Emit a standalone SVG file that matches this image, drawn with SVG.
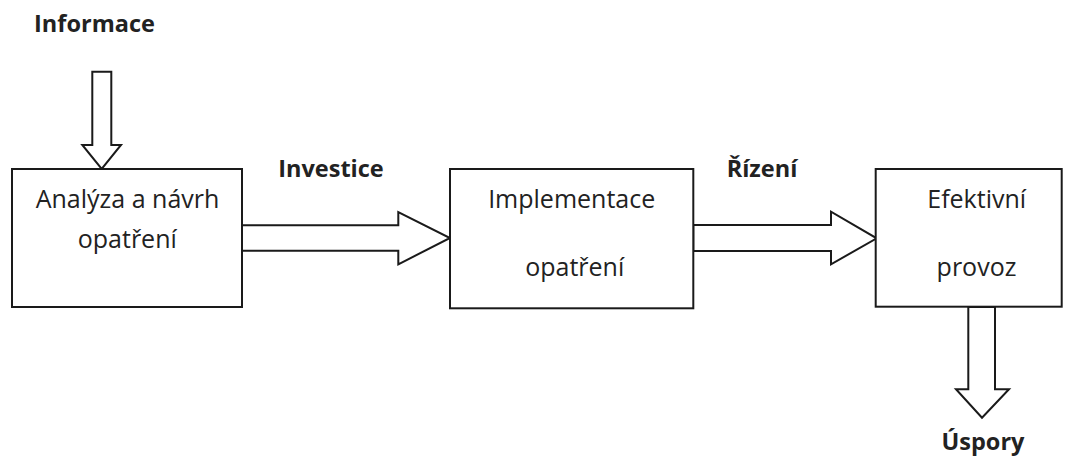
<svg xmlns="http://www.w3.org/2000/svg" width="1065" height="462" viewBox="0 0 1065 462">
<style>
.box{fill:#fff;stroke:#1a1a1a;stroke-width:2}
.arr{fill:#fff;stroke:#1a1a1a;stroke-width:2;stroke-linejoin:miter}
.t{font-family:"Open Sans","Noto Sans",sans-serif;font-size:25px;fill:#222;text-anchor:middle}
.b{font-family:"Open Sans","Noto Sans",sans-serif;font-size:23.5px;font-weight:bold;fill:#222;text-anchor:middle}
</style>
<rect width="1065" height="462" fill="#fff"/>
<g id="connectors">
<polygon class="arr" points="92.3,71.7 111.3,71.7 111.3,145 121,145 101.7,169 82.3,145 92.3,145"/>
<polygon class="arr" points="242,225.3 398.3,225.3 398.3,212 450,238 398.3,264.3 398.3,250.7 242,250.7"/>
<polygon class="arr" points="693.3,225 831,225 831,211.7 876.7,238.3 831,264.3 831,251 693.3,251"/>
<polygon class="arr" points="968.3,307 995,307 995,389.3 1009,389.3 982,417.7 956,389.3 968.3,389.3"/>
</g>
<g id="node-analyza">
<rect class="box" x="12" y="169" width="230" height="138"/>
<text class="t" x="127.5" y="208.3">Analýza a návrh</text>
<text class="t" x="127.3" y="248.3">opatření</text>
</g>
<g id="node-implementace">
<rect class="box" x="450" y="169" width="243.3" height="139.3"/>
<text class="t" x="571.7" y="208.3">Implementace</text>
<text class="t" x="574.7" y="276">opatření</text>
</g>
<g id="node-provoz">
<rect class="box" x="875.7" y="169" width="186" height="137.7"/>
<text class="t" x="976.7" y="207.5">Efektivní</text>
<text class="t" x="976.5" y="276">provoz</text>
</g>
<g id="labels">
<text class="b" x="94.5" y="31.7">Informace</text>
<text class="b" x="331" y="176.7">Investice</text>
<text class="b" x="762" y="176.7">Řízení</text>
<text class="b" x="983" y="450">Úspory</text>
</g>
</svg>
